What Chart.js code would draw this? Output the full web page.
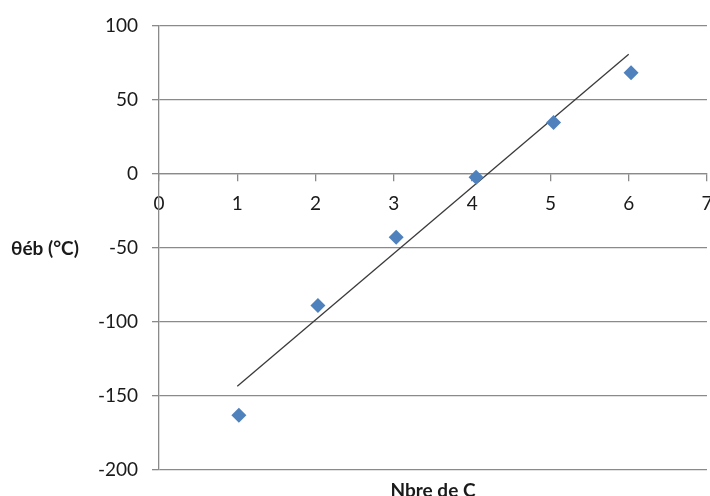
<!DOCTYPE html>
<html><head><meta charset="utf-8">
<script src="https://cdn.jsdelivr.net/npm/chart.js@4/dist/chart.umd.min.js"></script>
<style>html,body{margin:0;padding:0;background:#fff}#wrap{width:710px;height:496px}</style>
</head><body><div id="wrap"><canvas id="c" width="710" height="496"></canvas></div>
<script>
const carbonCount = [1.02, 2.03, 3.03, 4.05, 5.04, 6.03];
const boilingPoint = [-163, -89, -43, -2.5, 34.5, 68];
const trendX = [1, 6];
const trendY = [-143.5, 80.5];
const xTitle = "Nbre de C";
const yTitle = "θéb (°C)";

const grid = '#8a8a8a';
const titles = {
  id: 'titles',
  beforeLayout(chart) {
    const x = chart.scales.x;
    if (x) x.getPadding = () => ({left: 0, top: 0, right: 0, bottom: 0});
  },
  afterDraw(chart) {
    const ctx = chart.ctx, a = chart.chartArea;
    ctx.save();
    ctx.fillStyle = '#1a1a1a';
    ctx.font = 'bold 19px Lato';
    ctx.textBaseline = 'middle';
    ctx.textAlign = 'left';
    ctx.fillText(yTitle, 11, (a.top + a.bottom) / 2 + 1);
    ctx.textAlign = 'center';
    ctx.fillText(xTitle, (a.left + a.right) / 2, 491);
    ctx.restore();
  }
};

new Chart(document.getElementById('c'), {
  type: 'scatter',
  data: {
    datasets: [
      {
        data: carbonCount.map((x, i) => ({x, y: boilingPoint[i]})),
        pointStyle: 'rectRot', pointRadius: 7.5, pointHoverRadius: 7.5,
        backgroundColor: '#4F81BD', borderColor: '#4F81BD', borderWidth: 0
      },
      {
        type: 'line',
        data: trendX.map((x, i) => ({x, y: trendY[i]})),
        borderColor: '#3a3a3a', borderWidth: 1.3, pointRadius: 0, fill: false
      }
    ]
  },
  options: {
    responsive: false, animation: false, events: [],
    layout: {autoPadding: false, padding: {left: 0, top: 24, right: 3, bottom: 26}},
    plugins: {legend: {display: false}, tooltip: {enabled: false}},
    scales: {
      x: {
        type: 'linear', min: 0, max: 7, position: {y: 0},
        afterFit(s) { s.paddingLeft = 0; s.paddingRight = 0; },
        ticks: {stepSize: 1, color: '#1a1a1a', font: {family: 'Lato', size: 19}, padding: 12, maxRotation: 0},
        grid: {drawOnChartArea: false, color: grid, tickLength: 7, lineWidth: 1.3},
        border: {color: grid, width: 1.3}
      },
      y: {
        min: -200, max: 100,
        afterFit(s) { s.width = 159; },
        ticks: {stepSize: 50, color: '#1a1a1a', font: {family: 'Lato', size: 19}, padding: 14},
        grid: {color: grid, tickLength: 7, lineWidth: 1.3},
        border: {color: grid, width: 1.3}
      }
    }
  },
  plugins: [titles]
});
</script></body></html>
